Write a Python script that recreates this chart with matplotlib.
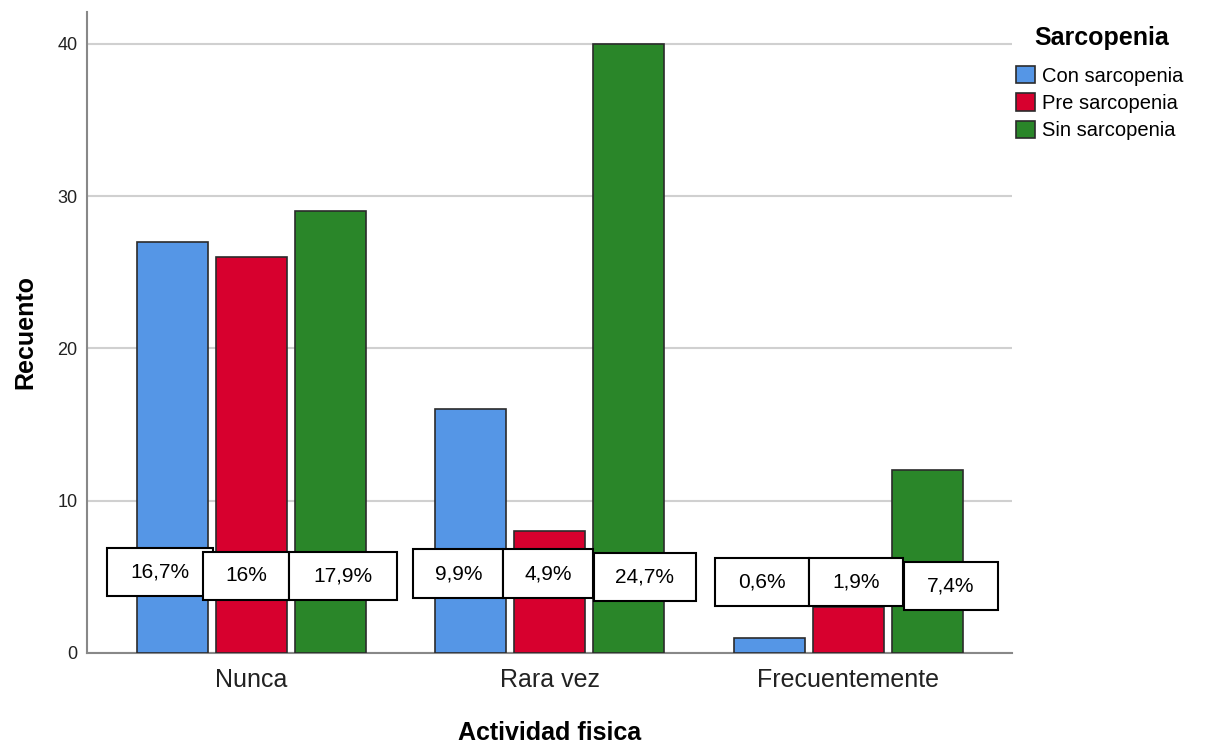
import matplotlib
matplotlib.use("Agg")
import matplotlib.pyplot as plt
from matplotlib.patches import Rectangle
import numpy as np

# ---- data ----
categories = ["Nunca", "Rara vez", "Frecuentemente"]
series_names = ["Con sarcopenia", "Pre sarcopenia", "Sin sarcopenia"]
con_sarcopenia = [27, 16, 1]
pre_sarcopenia = [26, 8, 3]
sin_sarcopenia = [29, 40, 12]
y_ticks = [0, 10, 20, 30, 40]

# ---- styles / layout ----
colors = ["#5596E6", "#D7002E", "#2A8629"]
plt.rcParams['font.family'] = ['Liberation Sans', 'DejaVu Sans']

# label box layout: (center x, center y, width, height) in data units
label_boxes = [
    [(-0.3065, 5.32, 0.355, 3.15), (0.693, 5.22, 0.3015, 3.22), (1.710, 4.66, 0.315, 3.15)],
    [(-0.0184, 5.06, 0.288, 3.15), (0.993, 5.22, 0.3015, 3.22), (2.025, 4.66, 0.315, 3.15)],
    [(0.3065, 5.06, 0.362, 3.15), (1.318, 4.99, 0.342, 3.15), (2.343, 4.40, 0.315, 3.15)],
]

series = [con_sarcopenia, pre_sarcopenia, sin_sarcopenia]
total = sum(sum(s) for s in series)

fig = plt.figure(figsize=(12.05, 7.45), dpi=100)
ax = fig.add_axes([0.0722, 0.1235, 0.8398 - 0.0722, 0.9839 - 0.1235])

x = np.arange(len(categories))
bw = 0.238
step = 0.2647
handles = []
for j, (vals, c, name) in enumerate(zip(series, colors, series_names)):
    b = ax.bar(x + (j - 1) * step, vals, width=bw, color=c, edgecolor="#2b2b2b",
               linewidth=1.2, label=name, zorder=3)
    handles.append(b)

ax.set_xlim(-0.551, 2.548)
ax.set_ylim(0, 42.1)
ax.set_yticks(y_ticks)
ax.set_yticklabels([str(t) for t in y_ticks], fontsize=13, color="#222222")
ax.set_xticks(x)
ax.set_xticklabels(categories, fontsize=18, color="#222222")
ax.tick_params(axis='both', length=0)
ax.tick_params(axis='y', pad=7)
ax.tick_params(axis='x', pad=11)
ax.grid(axis='y', color="#D0D0D0", linewidth=1.5, zorder=0)
ax.set_axisbelow(True)
for s in ["top", "right"]:
    ax.spines[s].set_visible(False)
for s in ["left", "bottom"]:
    ax.spines[s].set_color("#888888")
    ax.spines[s].set_linewidth(1.5)

ax.set_xlabel("Actividad fisica", fontsize=18, fontweight="bold", labelpad=21)
ax.set_ylabel("Recuento", fontsize=18, fontweight="bold", labelpad=14)

# percentage label boxes
for j, vals in enumerate(series):
    for i, v in enumerate(vals):
        p = v / total * 100
        s = f"{p:.1f}".rstrip('0').rstrip('.').replace('.', ',') + "%"
        cx, cy, w, h = label_boxes[j][i]
        z = 5 + i * 3 + j
        ax.add_patch(Rectangle((cx - w / 2, cy - h / 2), w, h, facecolor="white",
                               edgecolor="black", linewidth=1.5, zorder=z))
        ax.text(cx, cy, s, ha="center", va="center", fontsize=15, zorder=z + 0.5)

leg = ax.legend(handles=handles, labels=series_names,
                loc="upper left", bbox_to_anchor=(1000 / 1205, 1 - 50 / 745),
                bbox_transform=fig.transFigure, frameon=False, fontsize=14.5,
                handlelength=0.95, handleheight=0.95, handletextpad=0.35,
                labelspacing=0.38, borderpad=0.3)
for h in leg.legend_handles:
    h.set_edgecolor("#2b2b2b")
fig.text(1102 / 1205, 1 - 38 / 745, "Sarcopenia", ha="center", va="center",
         fontsize=18, fontweight="bold")

fig.savefig("out.png", dpi=100)
